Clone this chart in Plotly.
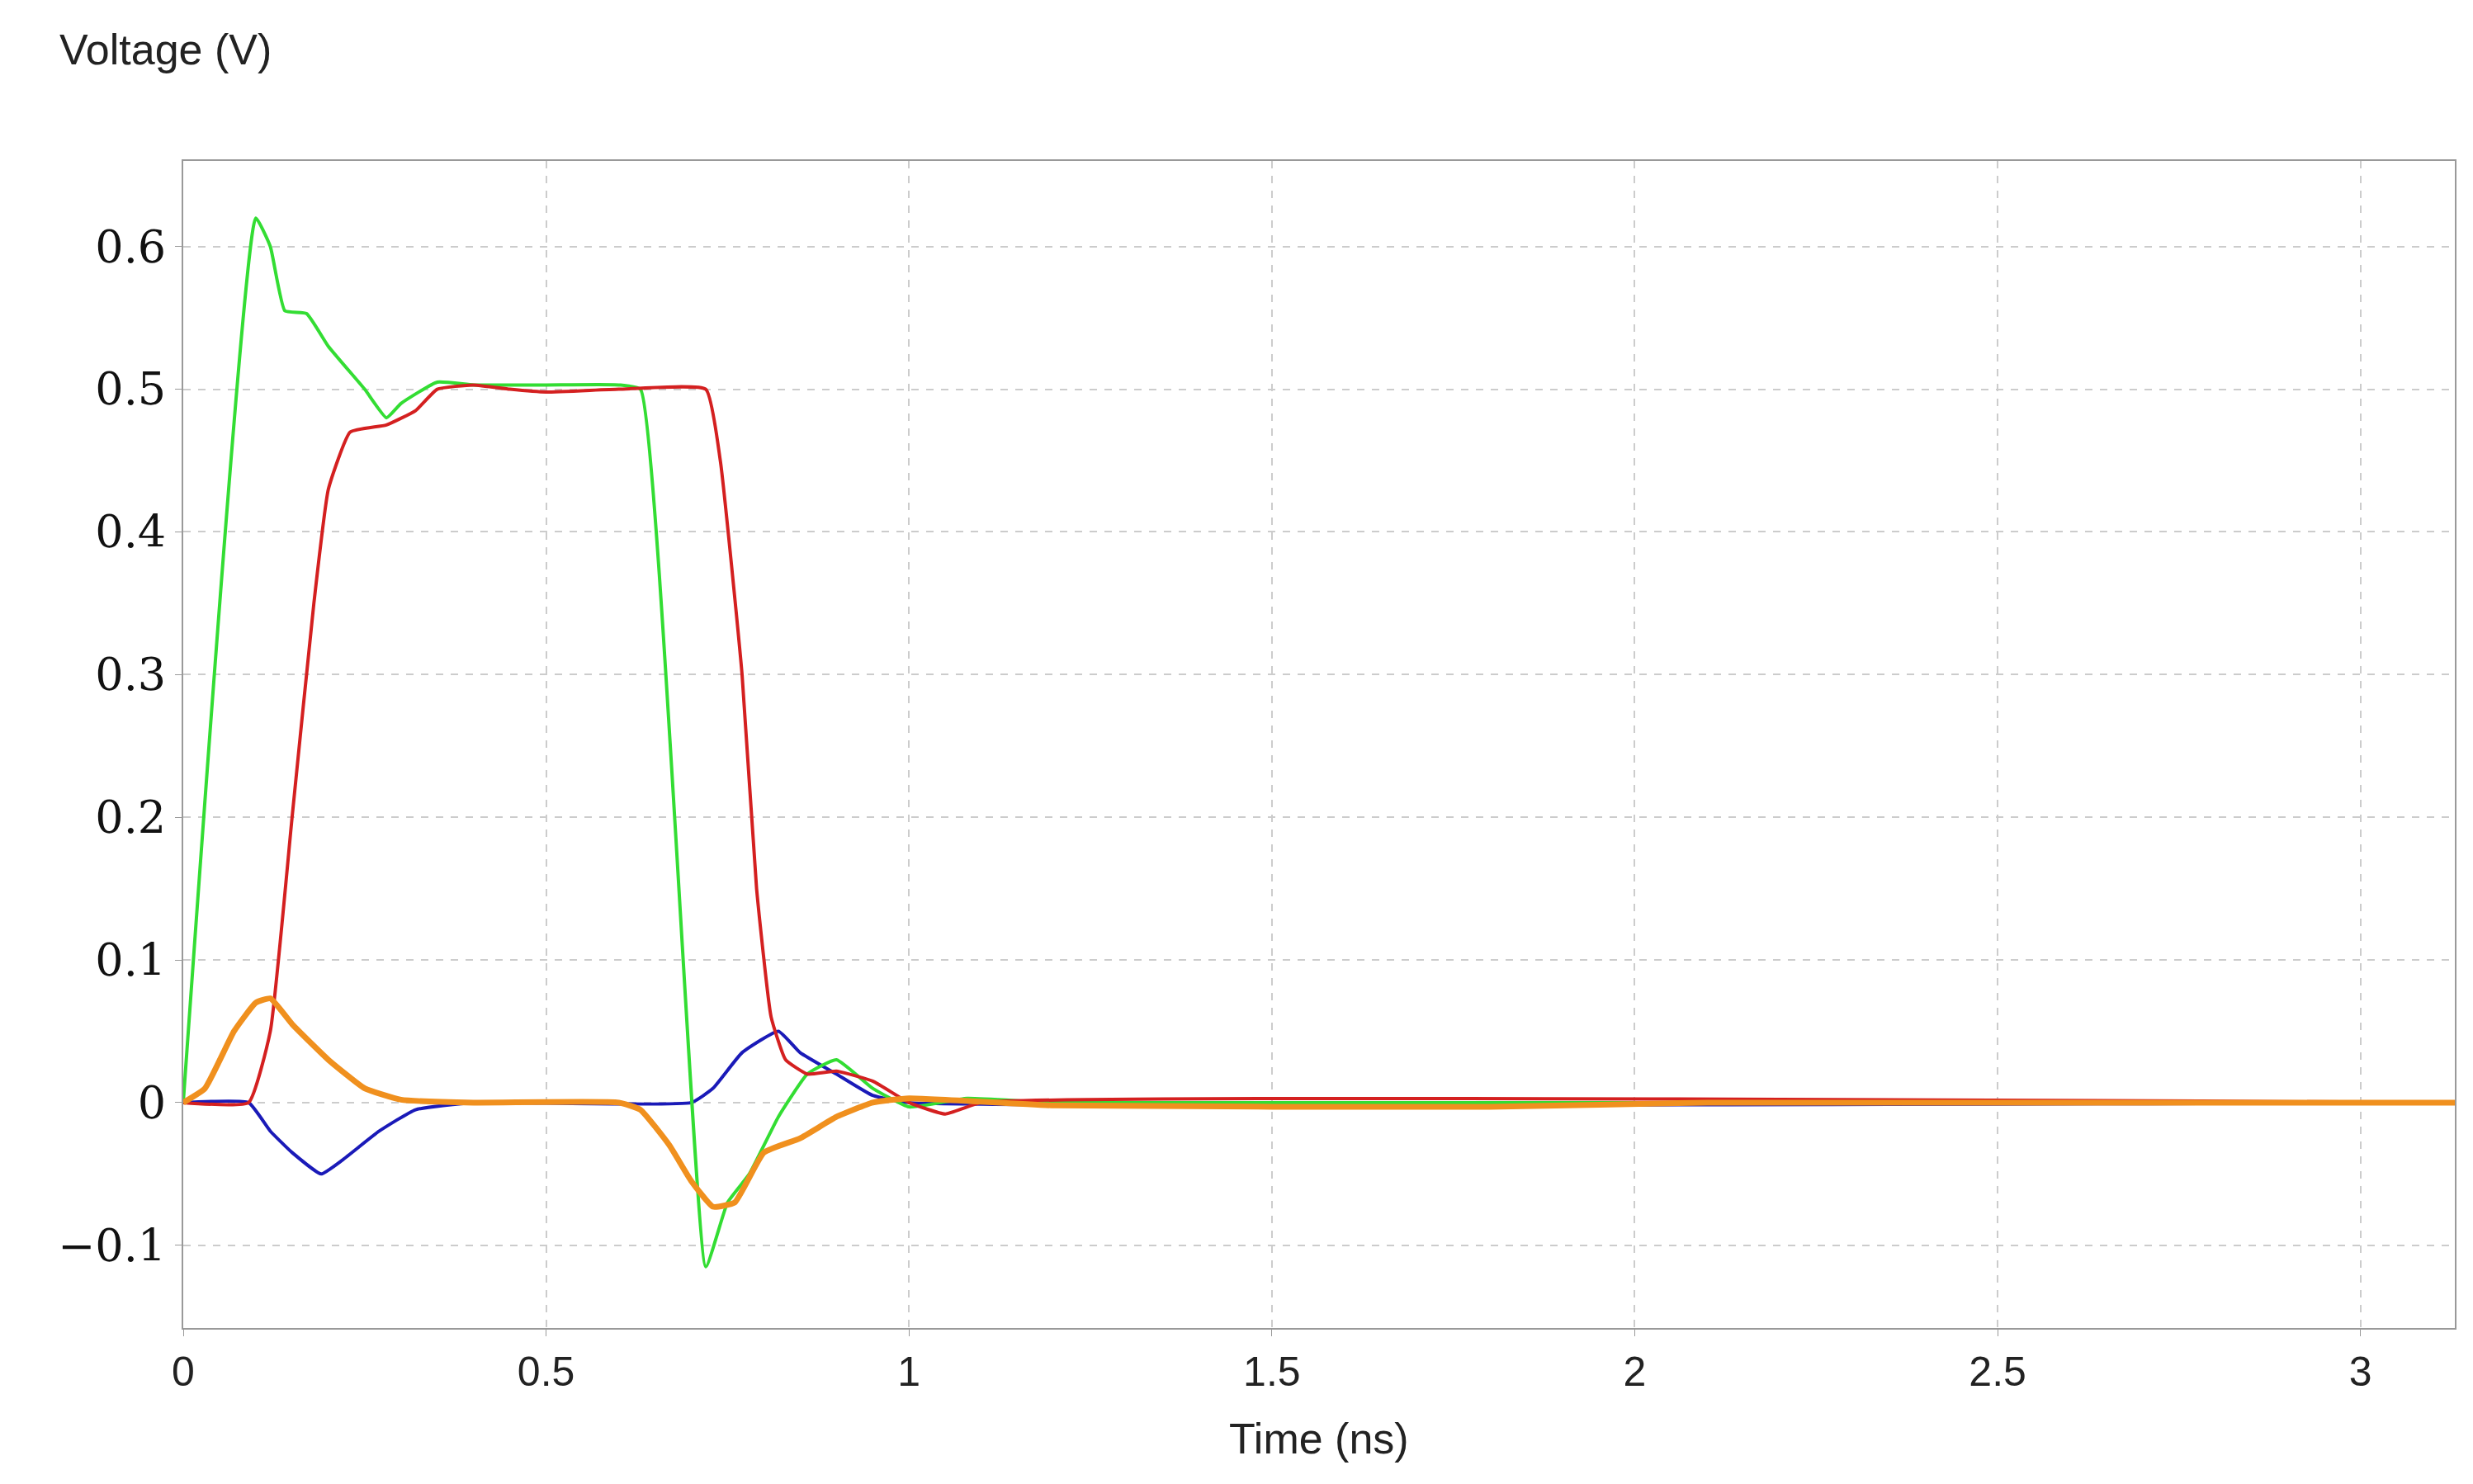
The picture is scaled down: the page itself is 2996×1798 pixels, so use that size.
import plotly.graph_objects as go

green_t = [0,0.1,0.12,0.14,0.17,0.2,0.25,0.28,0.3,0.35,0.4,0.5,0.6,0.63,0.72,0.75,0.78,0.82,0.86,0.9,0.95,1.0,1.08,1.2,3.13]
green_v = [0,0.62,0.6,0.555,0.553,0.53,0.5,0.48,0.49,0.505,0.503,0.503,0.503,0.5,-0.115,-0.07,-0.05,-0.01,0.02,0.03,0.01,-0.003,0.003,0,0]
red_t = [0,0.09,0.12,0.15,0.18,0.2,0.23,0.28,0.32,0.35,0.4,0.45,0.5,0.6,0.72,0.74,0.77,0.79,0.81,0.83,0.86,0.9,0.95,1.0,1.05,1.1,3.13]
red_v = [0,0,0.05,0.2,0.35,0.43,0.47,0.475,0.485,0.5,0.503,0.5,0.498,0.5,0.5,0.45,0.3,0.15,0.06,0.03,0.02,0.022,0.015,0,-0.008,0,0]
blue_t = [0,0.09,0.12,0.15,0.19,0.22,0.27,0.32,0.4,0.7,0.73,0.77,0.82,0.85,0.9,0.95,1.0,3.13]
blue_v = [0,0,-0.02,-0.035,-0.05,-0.04,-0.02,-0.005,0,0,0.01,0.035,0.05,0.035,0.02,0.005,0,0]
orange_t = [0,0.03,0.07,0.1,0.12,0.15,0.2,0.25,0.3,0.4,0.6,0.63,0.67,0.7,0.73,0.76,0.8,0.85,0.9,0.95,1.0,1.2,1.8,2.1,3.13]
orange_v = [0,0.01,0.05,0.07,0.073,0.055,0.03,0.01,0.002,0,0,-0.005,-0.03,-0.055,-0.073,-0.07,-0.035,-0.025,-0.01,0,0.003,-0.002,-0.003,0,0]

fig = go.Figure()
for t, v, c, w in [(blue_t, blue_v, "#1a1ab8", 4), (green_t, green_v, "#33dd33", 4),
                   (red_t, red_v, "#d42020", 4), (orange_t, orange_v, "#f0901e", 7)]:
    fig.add_trace(go.Scatter(x=t, y=v, mode="lines", line=dict(color=c, width=w, shape="spline", smoothing=0.4)))

grid = dict(showgrid=True, gridcolor="#cccccc", griddash="dash", gridwidth=1.5,
            showline=True, linecolor="#999999", linewidth=2, mirror=True, zeroline=False,
            ticks="outside", ticklen=8, tickcolor="#999999")
fig.update_xaxes(range=[0, 3.13], tickvals=[0,0.5,1,1.5,2,2.5,3], ticktext=["0","0.5","1","1.5","2","2.5","3"],
                 tickfont=dict(family="Liberation Sans", size=50, color="#222"), **grid)
fig.update_yaxes(range=[-0.158, 0.66], tickvals=[-0.1,0,0.1,0.2,0.3,0.4,0.5,0.6],
                 ticktext=["\u22120.1","0","0.1","0.2","0.3","0.4","0.5","0.6"],
                 tickfont=dict(family="DejaVu Serif", size=54, color="#111"), **grid)
fig.update_layout(width=2996, height=1798, showlegend=False, plot_bgcolor="white", paper_bgcolor="white",
                  margin=dict(l=214, r=30, t=187, b=197))
fig.add_annotation(text="Voltage (V)", x=-(214-62)/2752, y=1+(187-52)/1414, xref="paper", yref="paper",
                   showarrow=False, xanchor="left", yanchor="middle",
                   font=dict(family="Liberation Sans", size=52, color="#222"))
fig.add_annotation(text="Time (ns)", x=(1590-214)/2752, y=-(1735-1601)/1414, xref="paper", yref="paper",
                   showarrow=False, xanchor="center", yanchor="middle",
                   font=dict(family="Liberation Sans", size=52, color="#222"))
fig.write_html("out.html")
